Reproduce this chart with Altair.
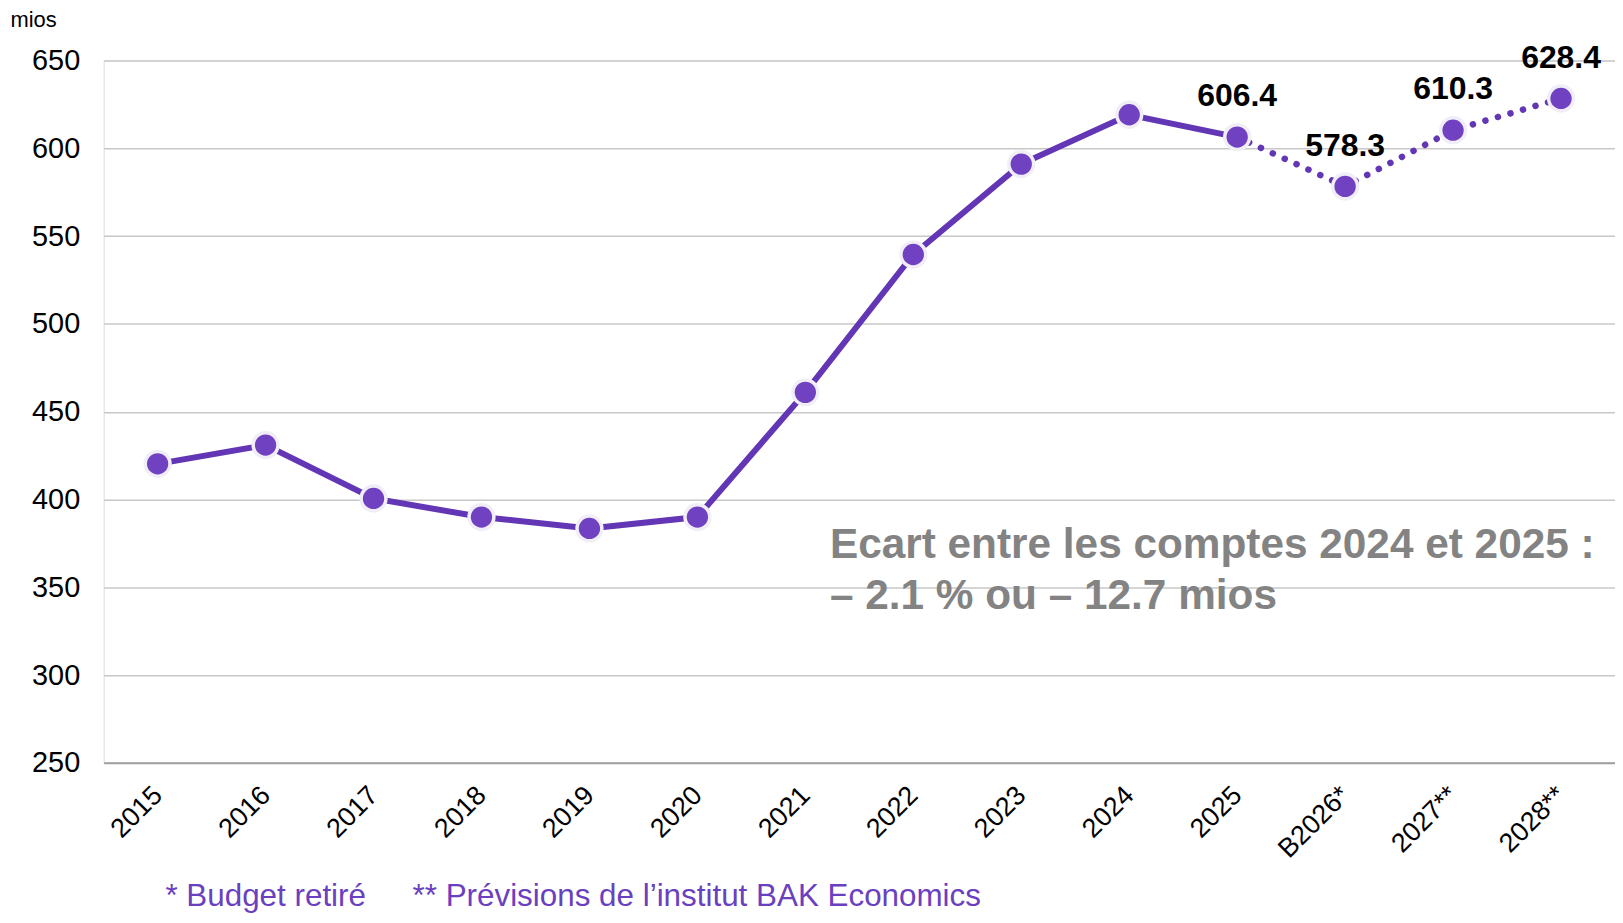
import altair as alt
import pandas as pd

years = ["2015", "2016", "2017", "2018", "2019", "2020", "2021", "2022",
         "2023", "2024", "2025", "B2026*", "2027**", "2028**"]
values = [420.3, 431.0, 400.6, 390.0, 383.5, 390.0, 461.0, 539.5,
          591.0, 619.1, 606.4, 578.3, 610.3, 628.4]
actual_years = years[:11]
forecast_years = years[10:]
label_years = ["2025", "B2026*", "2027**", "2028**"]
y_ticks = [250, 300, 350, 400, 450, 500, 550, 600, 650]
note_lines = ["Ecart entre les comptes 2024 et 2025 :", "– 2.1 % ou – 12.7 mios"]
footnote_1 = "* Budget retiré"
footnote_2 = "** Prévisions de l’institut BAK Economics"

FONT = "Liberation Sans"
LINE = "#6236b4"
DOT = "#7042c2"
NOTE_PURPLE = "#6a3fc0"

df = pd.DataFrame({"year": years, "value": values})
df["label"] = [f"{v:.1f}" for v in values]

x_enc = alt.X(
    "year:N", sort=years,
    scale=alt.Scale(type="point", padding=0.5),
    axis=alt.Axis(
        title=None, labelAngle=-45, labelAlign="right", labelBaseline="middle",
        labelFontSize=27, labelColor="black", labelFont=FONT, labelPadding=28,
        ticks=False, domain=True, domainColor="#a0a0a0", domainWidth=2, grid=False,
    ),
)
y_enc = alt.Y(
    "value:Q",
    scale=alt.Scale(domain=[250, 650], nice=False, zero=False),
    axis=alt.Axis(
        values=y_ticks, title="mios", titleAngle=0, titleAlign="left",
        titleBaseline="middle", titleX=-94, titleY=-41, titleFontSize=22,
        titleFontWeight="normal", titleFont=FONT, titleColor="black",
        labelFontSize=29, labelFont=FONT, labelColor="black", labelPadding=24,
        ticks=False, domain=False, grid=True, gridColor="#c8c8c8", gridWidth=1.5,
    ),
)

base = alt.Chart(df).encode(x=x_enc, y=y_enc)

solid = base.transform_filter(
    alt.FieldOneOfPredicate(field="year", oneOf=actual_years)
).mark_line(color=LINE, strokeWidth=6)

dotted = base.transform_filter(
    alt.FieldOneOfPredicate(field="year", oneOf=forecast_years)
).mark_line(color=LINE, strokeWidth=6.5, strokeDash=[0.1, 13], strokeCap="round")

points = base.mark_point(
    filled=True, fill=DOT, stroke="#f1eef7", strokeWidth=3.5, size=620, opacity=1
)

labels = base.transform_filter(
    alt.FieldOneOfPredicate(field="year", oneOf=label_years)
).mark_text(
    dy=-41, fontSize=32, fontWeight="bold", font=FONT, color="black",
    baseline="middle", align="center",
).encode(text="label:N")

single = pd.DataFrame({"k": [0]})
note = alt.Chart(single).mark_text(
    text=note_lines, align="left", baseline="middle", fontSize=42.5,
    fontWeight="bold", font=FONT, color="#838383", lineHeight=52,
).encode(x=alt.value(729), y=alt.value(486))

fn1 = alt.Chart(single).mark_text(
    text=footnote_1, align="left", baseline="alphabetic", fontSize=31.5,
    font=FONT, color=NOTE_PURPLE,
).encode(x=alt.value(62), y=alt.value(849))
fn2 = alt.Chart(single).mark_text(
    text=footnote_2, align="left", baseline="alphabetic", fontSize=31.5,
    font=FONT, color=NOTE_PURPLE,
).encode(x=alt.value(310), y=alt.value(849))

chart = alt.layer(solid, dotted, points, labels, note, fn1, fn2).properties(
    width=1517, height=705,
    autosize=alt.AutoSizeParams(type="none"),
    padding={"left": 96, "top": 51, "right": 0, "bottom": 150},
).configure_view(stroke=None).configure(background="white")

chart.save("out.html", embed_options={"renderer": "svg", "actions": False})
